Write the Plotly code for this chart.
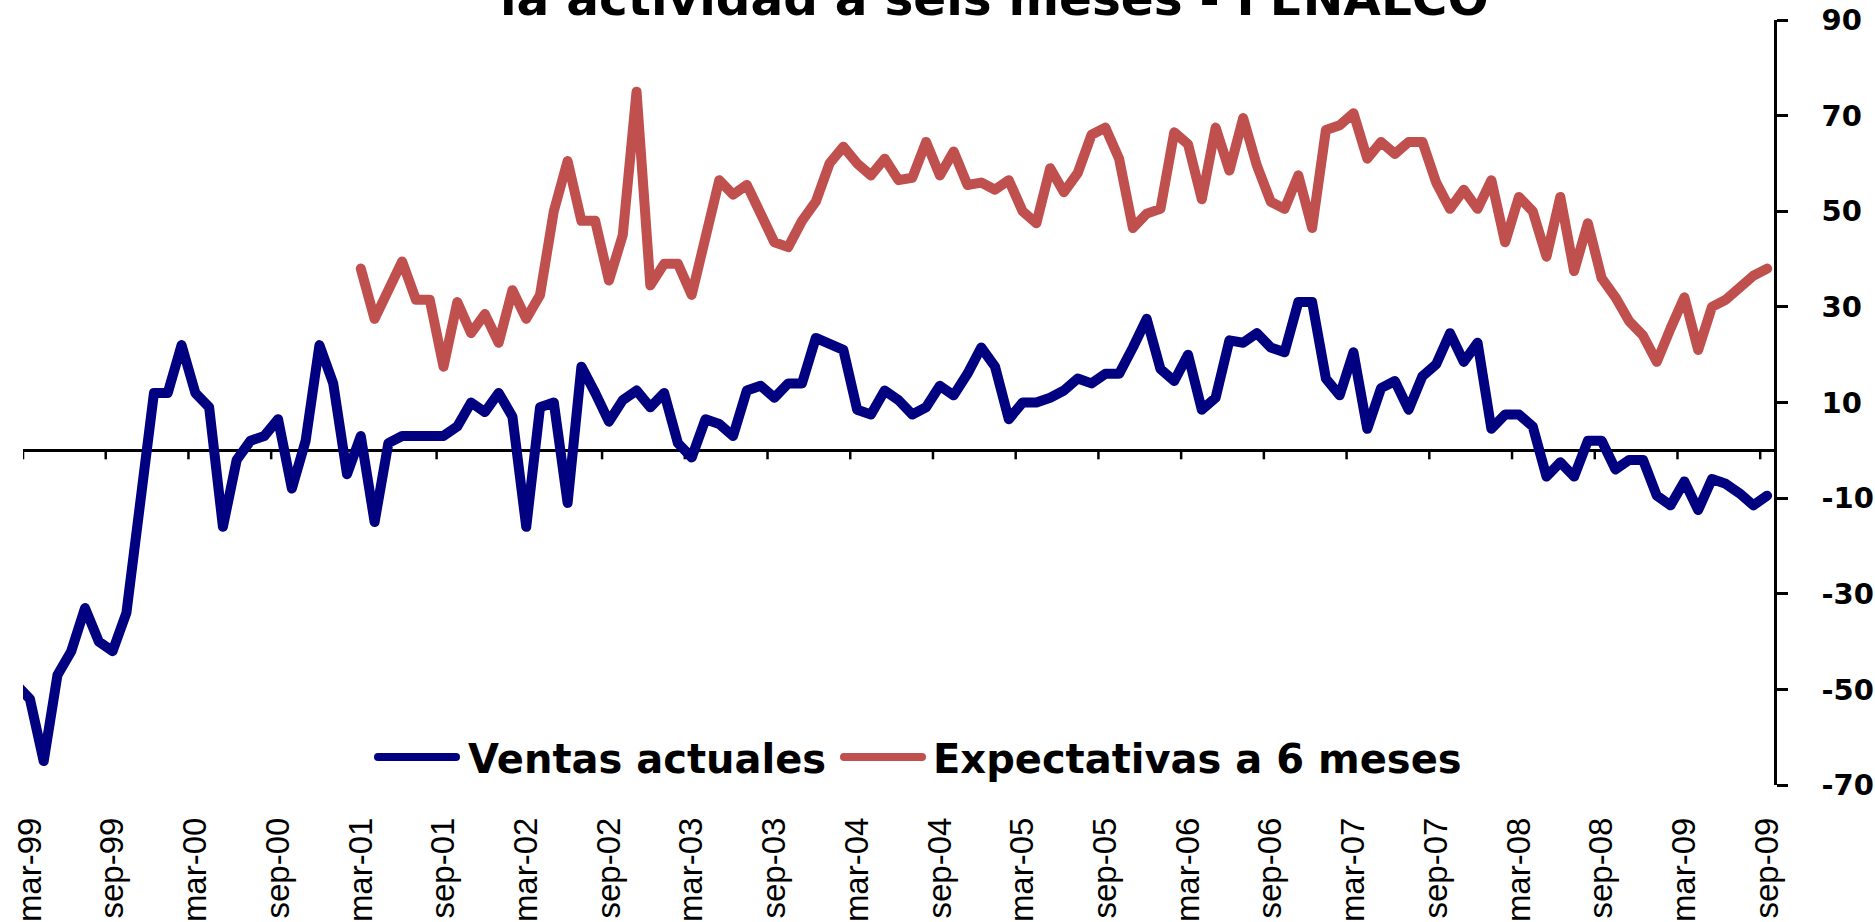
import plotly.graph_objects as go

# Month labels, feb-99 .. sep-09 (the axis window opens at mar-99)
MESES_ABR = ["ene", "feb", "mar", "abr", "may", "jun", "jul", "ago", "sep", "oct", "nov", "dic"]
periodos = [f"{MESES_ABR[m % 12]}-{(1999 + m // 12) % 100:02d}" for m in range(1, 129)]

# Balance de respuestas, ventas actuales (feb-99 .. sep-09)
ventas = [
    -49, -52, -65, -47, -42, -33, -40, -42, -34, -9, 12, 12,
    22, 12, 9, -16, -2, 2, 3, 6.5, -8, 2, 22, 14,
    -5, 3, -15, 1.5, 3, 3, 3, 3, 5, 10, 8, 12,
    7, -16, 9, 10, -11, 17.5, 12, 6, 10.5, 12.5, 9, 12,
    1.5, -1.5, 6.5, 5.5, 3, 12.5, 13.5, 11, 14, 14, 23.5, 22,
    21, 8.5, 7.5, 12.5, 10.5, 7.5, 9, 13.5, 11.5, 16, 21.5, 17.5,
    6.5, 10, 10, 11, 12.5, 15, 14, 16, 16, 21.5, 27.5, 17,
    14.5, 20, 8.5, 11, 23, 22.5, 24.5, 21.5, 20.5, 31, 31, 15,
    11.5, 20.5, 4.5, 13, 14.5, 8.5, 15.5, 18, 24.5, 18.5, 22.5, 4.5,
    7.5, 7.5, 5, -5.5, -2.5, -5.5, 2, 2, -4, -2, -2, -9.5,
    -11.5, -6.5, -12.5, -6, -7, -9, -11.5, -9.5,
]

# Expectativas de la actividad a seis meses (desde mar-01)
expectativas = [None] * 25 + [
    38, 27.5, 33.5, 39.5, 31.5, 31.5, 17.5, 31, 24.5, 28.5, 22.5, 33.5,
    27.5, 32.5, 50, 60.5, 48, 48, 35.5, 45, 75, 34.5, 39, 39,
    32.5, 44.5, 56.5, 53.5, 55.5, 49.5, 43.5, 42.5, 48, 52, 60, 63.5,
    60, 57.5, 61, 56.5, 57, 64.5, 57.5, 62.5, 55.5, 56, 54.5, 56.5,
    50, 47.5, 59, 54, 58, 66, 67.5, 61, 46.5, 49.5, 50.5, 66.5,
    64, 52.5, 67.5, 58.5, 69.5, 59.5, 52, 50.5, 57.5, 46.5, 67, 68,
    70.5, 61, 64.5, 62, 64.5, 64.5, 56, 50.5, 54.5, 50.5, 56.5, 43.5,
    53, 50, 40.5, 53, 37.5, 47.5, 36, 32, 27, 24, 18.5, 25.5,
    32, 21, 30, 31.5, 34, 36.5, 38,
]

y_ticks = [-70, -50, -30, -10, 10, 30, 50, 70, 90]

AZUL = "#000080"
ROJO = "#C0504D"
x = list(range(len(periodos)))
tick_idx = list(range(1, len(periodos), 6))

W, H = 1875, 922
L, R, T, B = 23, 101, 20, 137
PW, PH = W - L - R, H - T - B


def px_x(v):
    return (v - L) / PW


def px_y(v):
    return (H - B - v) / PH


fig = go.Figure()
fig.add_trace(go.Scatter(x=x, y=ventas, mode="lines", name="Ventas actuales",
                         line=dict(color=AZUL, width=10), showlegend=False))
fig.add_trace(go.Scatter(x=x, y=expectativas, mode="lines", name="Expectativas a 6 meses",
                         line=dict(color=ROJO, width=10), showlegend=False))

shapes = []
# legend samples
for x0, x1, col in [(378, 456, AZUL), (844, 922, ROJO)]:
    shapes.append(dict(type="line", xref="paper", yref="paper",
                       x0=px_x(x0), x1=px_x(x1), y0=px_y(757), y1=px_y(757),
                       line=dict(color=col, width=8), layer="above"))
# category-boundary tick marks hanging from the zero line
for t in tick_idx:
    shapes.append(dict(type="line", xref="x", yref="y", x0=t - 0.5, x1=t - 0.5,
                       ysizemode="pixel", yanchor=0, y0=0, y1=-9,
                       line=dict(color="black", width=2.5), layer="below"))

bold = dict(family="DejaVu Sans", color="black", weight="bold")
annotations = [
    dict(text="la actividad a seis meses - FENALCO", xref="paper", yref="paper",
         x=px_x(994.5), y=px_y(27), xanchor="center", yanchor="bottom", showarrow=False,
         borderpad=0, font=dict(bold, size=48.5)),
    dict(text="Ventas actuales", xref="paper", yref="paper",
         x=px_x(467), y=px_y(759), xanchor="left", yanchor="middle", showarrow=False,
         borderpad=0, font=dict(bold, size=40)),
    dict(text="Expectativas a 6 meses", xref="paper", yref="paper",
         x=px_x(932), y=px_y(759), xanchor="left", yanchor="middle", showarrow=False,
         borderpad=0, font=dict(bold, size=40)),
]

fig.update_layout(
    width=W, height=H,
    margin=dict(l=L, r=R, t=T, b=B, pad=0, autoexpand=False),
    paper_bgcolor="white", plot_bgcolor="white",
    shapes=shapes, annotations=annotations,
    xaxis=dict(range=[0.5, len(periodos) - 0.5], tickvals=tick_idx,
               ticktext=[periodos[i] for i in tick_idx], tickangle=-90,
               ticks="", showline=False, showgrid=False, zeroline=False,
               automargin=False, ticklabelstandoff=25,
               tickfont=dict(family="Liberation Sans", size=33, color="black")),
    yaxis=dict(side="right", range=[-70, 90], tickvals=y_ticks,
               ticktext=[str(v) for v in y_ticks],
               showline=True, linecolor="black", linewidth=2.5,
               ticks="outside", ticklen=11, tickwidth=2.5, tickcolor="black",
               showgrid=False, zeroline=True, zerolinecolor="black", zerolinewidth=2.5,
               automargin=False, ticklabelstandoff=28,
               tickfont=dict(bold, size=29)),
)

css = (".js-line{stroke-linejoin:round;stroke-linecap:round}"
       ".shapelayer path[data-index='0'],.shapelayer path[data-index='1']{stroke-linecap:round}")
post = "var s=document.createElement('style');s.innerHTML=\"" + css + "\";document.head.appendChild(s);"

fig.write_html("out.html", post_script=post)
